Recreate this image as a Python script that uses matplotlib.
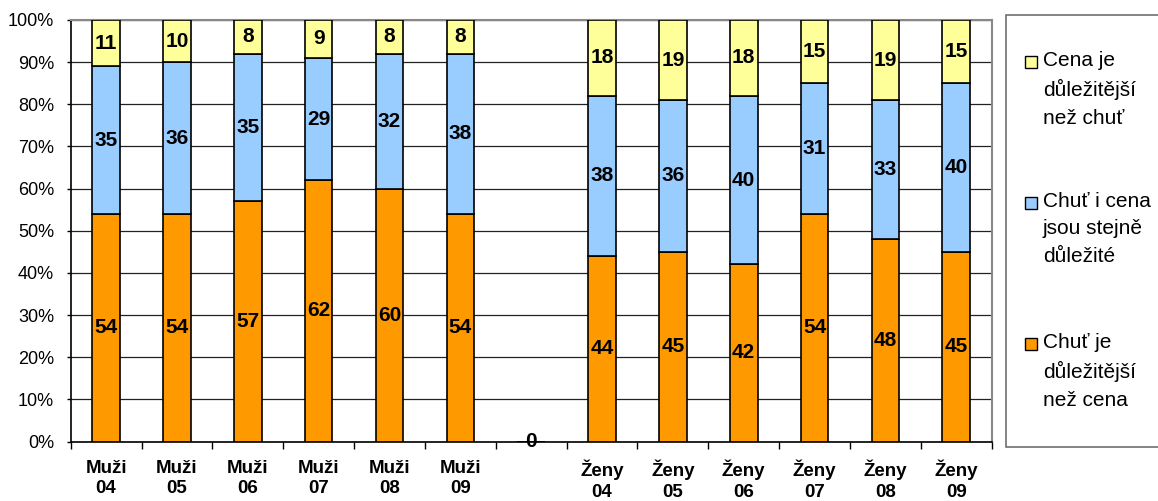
import matplotlib.pyplot as plt
from matplotlib.patches import Rectangle
from matplotlib.ticker import FixedLocator, PercentFormatter
import numpy as np

plt.rcParams['font.family'] = ['Liberation Sans', 'DejaVu Sans']

categories = ["Muži\n04", "Muži\n05", "Muži\n06", "Muži\n07", "Muži\n08", "Muži\n09", "",
              "Ženy\n04", "Ženy\n05", "Ženy\n06", "Ženy\n07", "Ženy\n08", "Ženy\n09"]
chut_vic = [54, 54, 57, 62, 60, 54, 0, 44, 45, 42, 54, 48, 45]
stejne = [35, 36, 35, 29, 32, 38, 0, 38, 36, 40, 31, 33, 40]
cena_vic = [11, 10, 8, 9, 8, 8, 0, 18, 19, 18, 15, 19, 15]

series_names = ["Chuť je\ndůležitější\nnež cena",
                "Chuť i cena\njsou stejně\ndůležité",
                "Cena je\ndůležitější\nnež chuť"]
colors = ["#FF9900", "#99CCFF", "#FFFF99"]

W, H = 1158, 501
fig = plt.figure(figsize=(W / 100, H / 100), dpi=100)
ax = fig.add_axes([70.7 / W, 1 - 441.5 / H, 921 / W, 421.5 / H])

x = np.arange(len(categories))
bottom = np.zeros(len(categories))
for vals, col in zip([chut_vic, stejne, cena_vic], colors):
    vals = np.array(vals, dtype=float)
    ax.bar(x, vals, 0.39, bottom=bottom, color=col, edgecolor="black", linewidth=1.2, zorder=3)
    for xi, v, b in zip(x, vals, bottom):
        if v > 0:
            ax.text(xi, b + v / 2, f"{int(v)}", ha="center", va="center",
                    fontsize=15, fontweight="bold", zorder=4)
    bottom += vals

# empty category label
empty = categories.index("")
ax.text(empty, 0, "0", ha="center", va="center", fontsize=15, fontweight="bold",
        zorder=5, clip_on=False)

ax.set_xlim(-0.5, len(categories) - 0.5)
ax.set_ylim(0, 100)
ax.yaxis.set_major_locator(FixedLocator(np.arange(0, 101, 10)))
ax.yaxis.set_major_formatter(PercentFormatter(decimals=0))
ax.yaxis.grid(True, color="#222222", linewidth=0.9, zorder=0)
ax.tick_params(axis="y", labelsize=13, length=3, width=1, pad=9)

ax.set_xticks(x)
ax.set_xticklabels(categories, fontsize=13.5, fontweight="bold", linespacing=1.3)
ax.set_xticks(np.arange(-0.5, len(categories)), minor=True)
ax.tick_params(axis="x", which="major", length=0, pad=13)
ax.tick_params(axis="x", which="minor", length=5, width=1)

for s in ["top", "right"]:
    ax.spines[s].set_color("#888888")
    ax.spines[s].set_linewidth(1.5)
for s in ["left", "bottom"]:
    ax.spines[s].set_color("black")
    ax.spines[s].set_linewidth(1.2)

# legend box drawn by hand so the markers sit on the first text line
fig.patches.append(Rectangle((1005.5 / W, 1 - 447 / H), 170 / W, 432 / H,
                             transform=fig.transFigure, facecolor="white",
                             edgecolor="#707070", linewidth=1.2))
legend_rows = [62, 203, 344]
for name, col, yy in zip(series_names[::-1], colors[::-1], legend_rows):
    fig.patches.append(Rectangle((1025 / W, 1 - (yy + 6) / H), 12 / W, 12 / H,
                                 transform=fig.transFigure, facecolor=col,
                                 edgecolor="black", linewidth=1.0))
    fig.text(1043 / W, 1 - (yy - 11) / H, name, ha="left", va="top",
             fontsize=15, linespacing=1.55)

fig.savefig("out.png", dpi=100)
